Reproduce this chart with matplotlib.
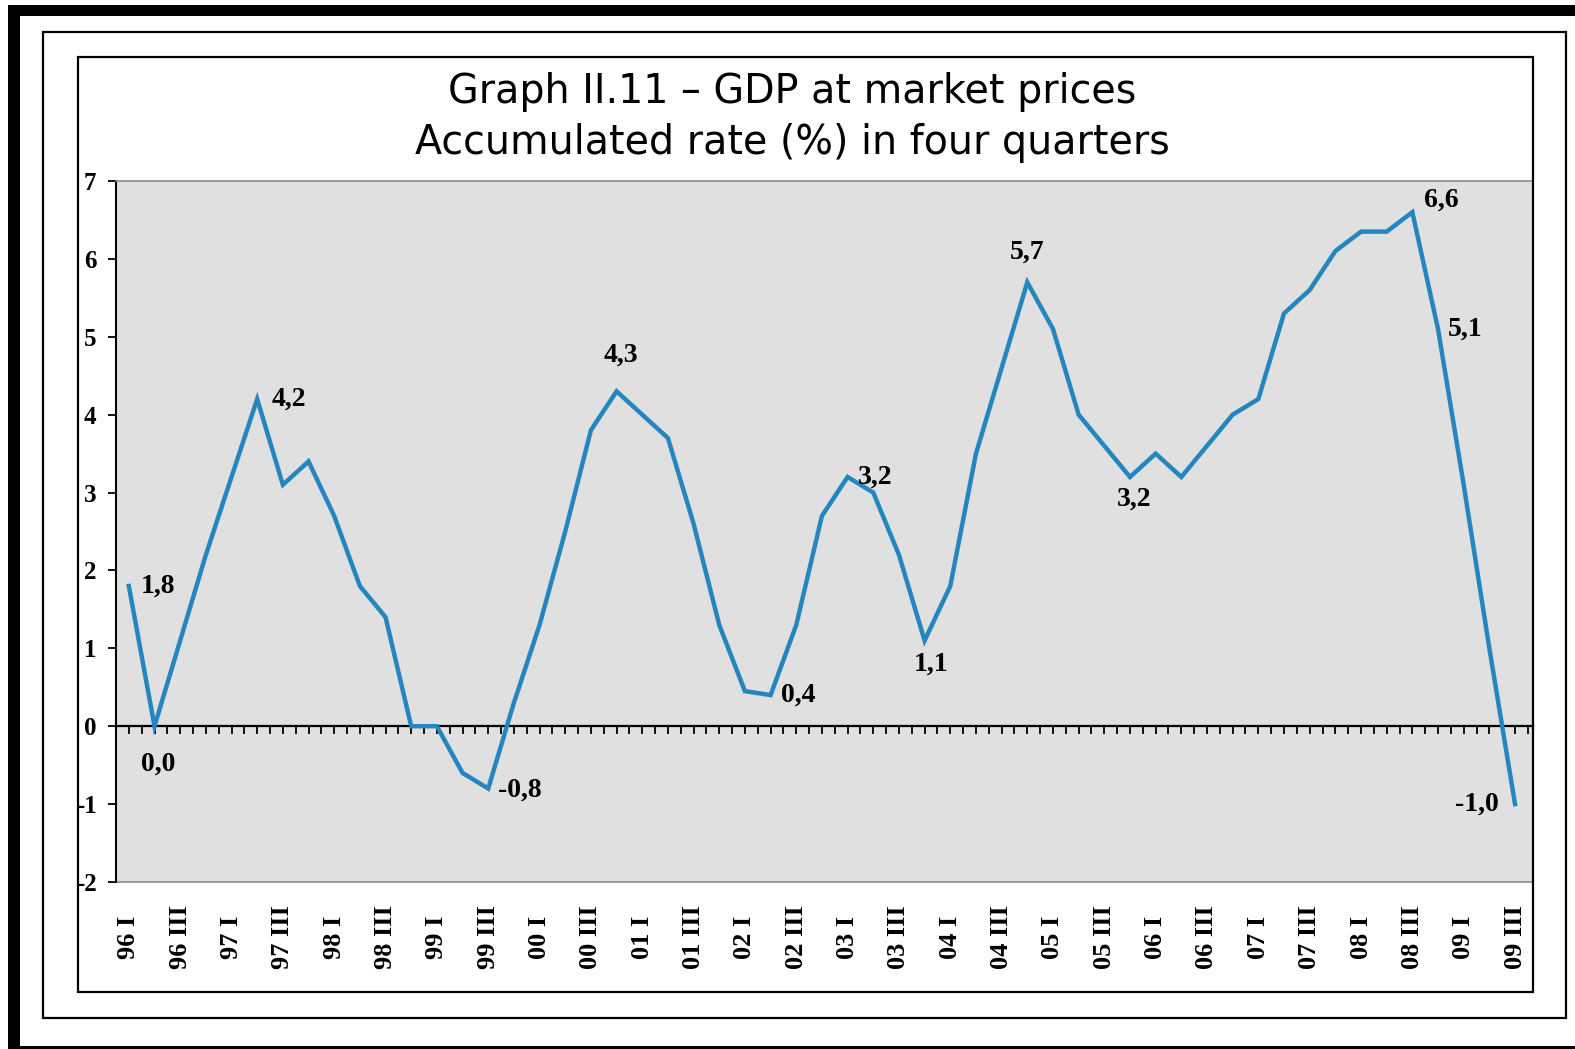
import numpy as np
import matplotlib
matplotlib.use("Agg")
import matplotlib.pyplot as plt
from matplotlib.patches import Rectangle

# GDP accumulated rate (%) in four quarters, 1996 Q1 - 2009 Q3
years = ["96", "97", "98", "99", "00", "01", "02", "03", "04", "05", "06", "07", "08", "09"]
gdp_rate = [
    1.8, 0.0, 1.1, 2.2,      # 96
    3.2, 4.2, 3.1, 3.4,      # 97
    2.7, 1.8, 1.4, 0.0,      # 98
    0.0, -0.6, -0.8, 0.3,    # 99
    1.3, 2.5, 3.8, 4.3,      # 00
    4.0, 3.7, 2.6, 1.3,      # 01
    0.45, 0.4, 1.3, 2.7,     # 02
    3.2, 3.0, 2.2, 1.1,      # 03
    1.8, 3.5, 4.6, 5.7,      # 04
    5.1, 4.0, 3.6, 3.2,      # 05
    3.5, 3.2, 3.6, 4.0,      # 06
    4.2, 5.3, 5.6, 6.1,      # 07
    6.35, 6.35, 6.6, 5.1,    # 08
    3.1, 1.0, -1.0,          # 09
]
# labelled quarters: index -> (dx, dy) offset in pixels, horizontal alignment
labelled = {
    0: (12, 0, "left"),
    1: (4, -38, "center"),
    5: (14, 0, "left"),
    14: (10, -2, "left"),
    19: (4, 36, "center"),
    25: (10, 0, "left"),
    28: (10, 0, "left"),
    31: (6, -24, "center"),
    35: (0, 30, "center"),
    39: (4, -22, "center"),
    50: (12, 12, "left"),
    51: (10, 0, "left"),
    54: (-16, 0, "right"),
}

W, H = 1575, 1049
fig = plt.figure(figsize=(W / 100, H / 100), dpi=100)
fig.patch.set_facecolor("white")


def px_rect(x0, y0, x1, y1, **kw):
    r = Rectangle((x0 / W, 1 - y1 / H), (x1 - x0) / W, (y1 - y0) / H,
                  transform=fig.transFigure, **kw)
    fig.add_artist(r)
    return r


# outer black band and the two framed boxes
px_rect(8, 5, 1575, 16, facecolor="black", edgecolor="none")
px_rect(8, 5, 20, 1049, facecolor="black", edgecolor="none")
px_rect(8, 1046, 1575, 1049, facecolor="black", edgecolor="none")
px_rect(43, 32, 1566, 1018, fill=False, edgecolor="black", lw=1.6)
px_rect(78, 57, 1533, 992, fill=False, edgecolor="black", lw=1.6)

ax = fig.add_axes([116 / W, 1 - 882 / H, (1533 - 116) / W, (882 - 181) / H])
ax.set_facecolor("#e0e0e0")

x = np.arange(len(gdp_rate))
ax.plot(x, gdp_rate, color="#2386bf", lw=3.2, solid_joinstyle="miter", zorder=3)

ax.set_xlim(-0.43, 54.70)
ax.set_ylim(-2, 7)

serif = {"family": "Liberation Serif", "weight": "bold"}

# y axis
ax.set_yticks(range(-2, 8))
ax.set_yticklabels([str(v) for v in range(-2, 8)], fontdict=serif, fontsize=18)
ax.tick_params(axis="y", direction="out", length=6, width=1.3, pad=8, color="black")
ax.spines["left"].set_linewidth(1.5)
ax.spines["right"].set_visible(False)
ax.spines["top"].set_color("#8a8a8a")
ax.spines["top"].set_linewidth(1.2)

# category axis crossing at zero
ax.spines["bottom"].set_position(("data", 0))
ax.spines["bottom"].set_linewidth(1.6)
ax.set_xticks(np.arange(-0.5, 54.6, 0.5))
ax.set_xticklabels([])
ax.tick_params(axis="x", direction="out", length=6, width=1.3, color="black")

# quarter labels along the bottom of the plot area
sec = ax.secondary_xaxis(0.0)
quarter_labels = []
for yy in years:
    quarter_labels += [f"{yy} I", f"{yy} III"]
sec.set_xticks(x[::2])
sec.set_xticklabels(quarter_labels, fontdict=serif, fontsize=19,
                    rotation=90, va="center")
sec.tick_params(axis="x", length=0, pad=40)
sec.spines["bottom"].set_color("#8a8a8a")
sec.spines["bottom"].set_linewidth(1.2)

# value labels
for i, (dx, dy, ha) in labelled.items():
    txt = f"{gdp_rate[i]:.1f}".replace(".", ",")
    ax.annotate(txt, (x[i], gdp_rate[i]), xytext=(dx * 0.72, dy * 0.72),
                textcoords="offset points", ha=ha, va="center",
                fontsize=20, zorder=4, **serif)

# title
fig.text(792 / W, 1 - 92 / H, "Graph II.11 \u2013 GDP at market prices",
         ha="center", va="center", family="DejaVu Sans", fontsize=28.5)
fig.text(792 / W, 1 - 143 / H, "Accumulated rate (%) in four quarters",
         ha="center", va="center", family="DejaVu Sans", fontsize=28.5)

fig.savefig("out.png", dpi=100)
